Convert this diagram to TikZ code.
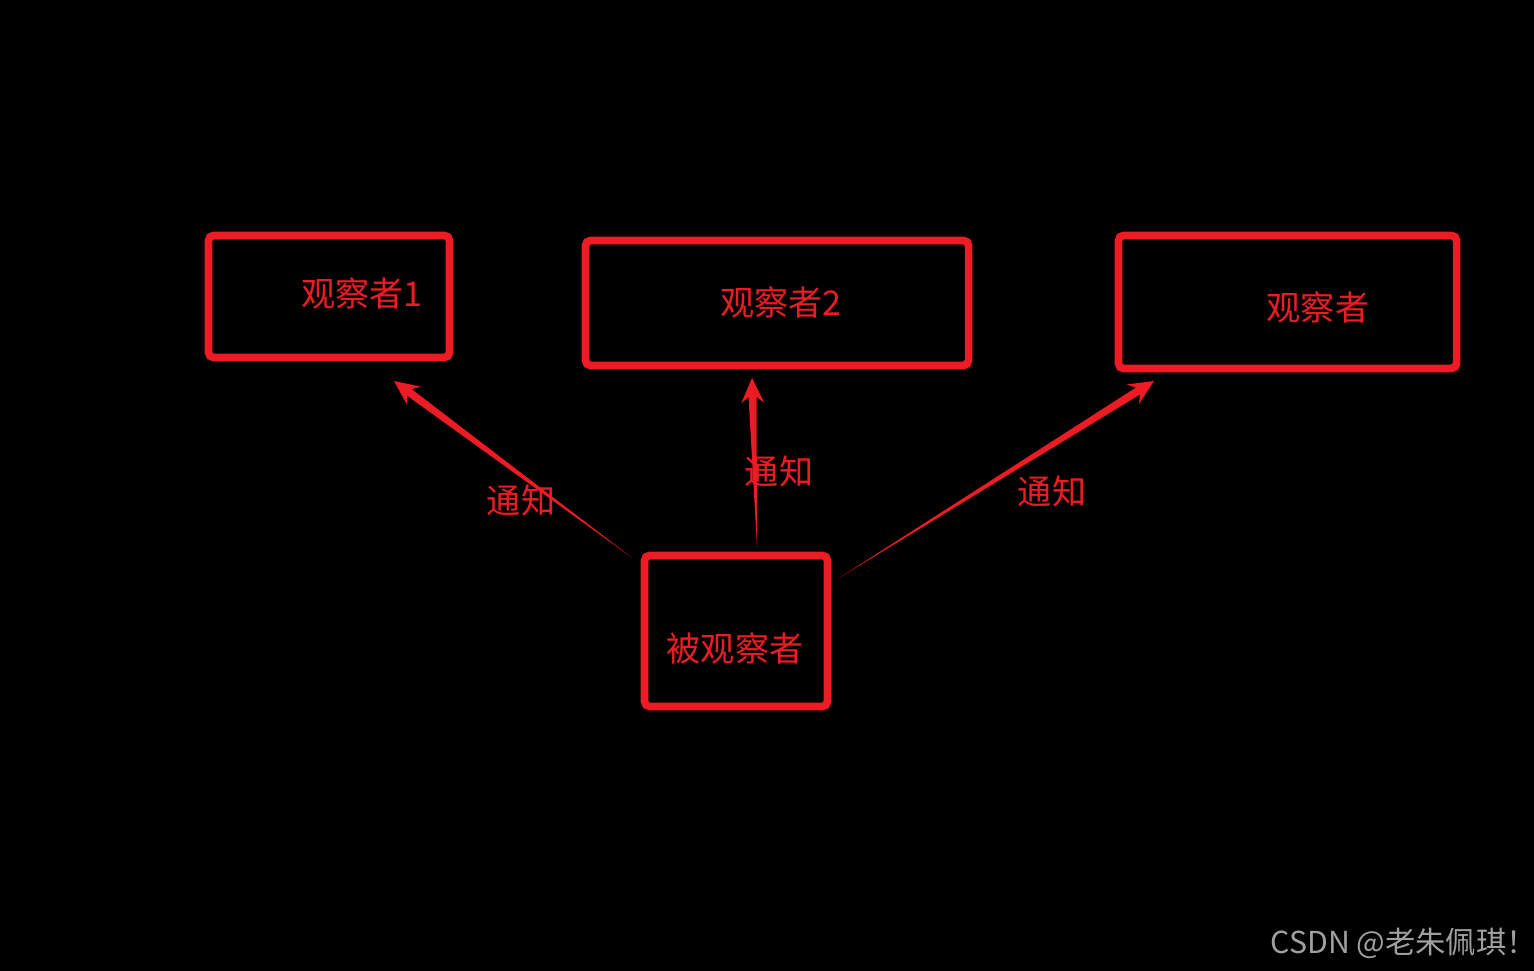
\documentclass[tikz,border=0pt]{standalone}
\usepackage{fontspec}
\newfontfamily\cjk{Noto Sans CJK SC}
\usetikzlibrary{calc}
\definecolor{notered}{RGB}{237,28,36}
\definecolor{markgray}{RGB}{160,160,160}

\tikzset{
  box/.style = {draw = notered, line width = 2.2pt, rounded corners = 1.5pt, inner sep = 0pt},
  boxtext/.style = {text = notered, font = \cjk\fontsize{9.7}{11}\selectfont, inner sep = 0pt},
}

% tapered arrow from #1 (tail) to #2 (tip)
\newcommand\notify[2]{%
  \coordinate (hb) at ($(#2)!0.25cm!(#1)$);
  \coordinate (hn) at ($(#2)!0.19cm!(#1)$);
  \fill[notered] (#1) -- ($(hn)!0.04cm!90:(#2)$) -- ($(hb)!0.115cm!90:(#2)$) -- (#2)
     -- ($(hb)!0.115cm!-90:(#2)$) -- ($(hn)!0.04cm!-90:(#2)$) -- cycle;
}

\begin{document}
\begin{tikzpicture}[x = 0.01cm, y = -0.01cm]

    \fill[black] (0,0) rectangle (1534,971);
    \useasboundingbox (0,0) rectangle (1534,971);

      %observer boxes
      \node[box, minimum width = 2.41cm, minimum height = 1.22cm] (obs1) at (329, 296.5) {};
      \node[box, minimum width = 3.83cm, minimum height = 1.25cm] (obs2) at (777, 303) {};
      \node[box, minimum width = 3.38cm, minimum height = 1.33cm] (obs3) at (1287.5, 302) {};
      \node[box, minimum width = 1.83cm, minimum height = 1.51cm] (subj) at (736, 631) {};

      \node[boxtext] (obs1txt) at (362, 293) {观察者1};
      \node[boxtext] (obs2txt) at (781, 302) {观察者2};
      \node[boxtext] (obs3txt) at (1318, 307) {观察者};
      \node[boxtext] (subjtxt) at (735, 648) {被观察者};

      %labels on the arrows
      \node[boxtext] (lbl1) at (521, 500) {通知};
      \node[boxtext] (lbl2) at (779, 471) {通知};
      \node[boxtext] (lbl3) at (1052, 491) {通知};

      %arrow ends
      \coordinate (tail1) at (631, 557);
      \coordinate (tip1) at (394, 381);
      \coordinate (tail2) at (757, 547);
      \coordinate (tip2) at (752, 378);
      \coordinate (tail3) at (839, 578);
      \coordinate (tip3) at (1154, 381);

      \notify{tail1}{tip1}
      \notify{tail2}{tip2}
      \notify{tail3}{tip3}

        %watermark
        \node[text = markgray, font = \cjk\fontsize{8.6}{10}\selectfont, inner sep = 0pt, anchor = west] (mark) at (1270, 943) {CSDN @老朱佩琪！};

    \end{tikzpicture}
\end{document}
